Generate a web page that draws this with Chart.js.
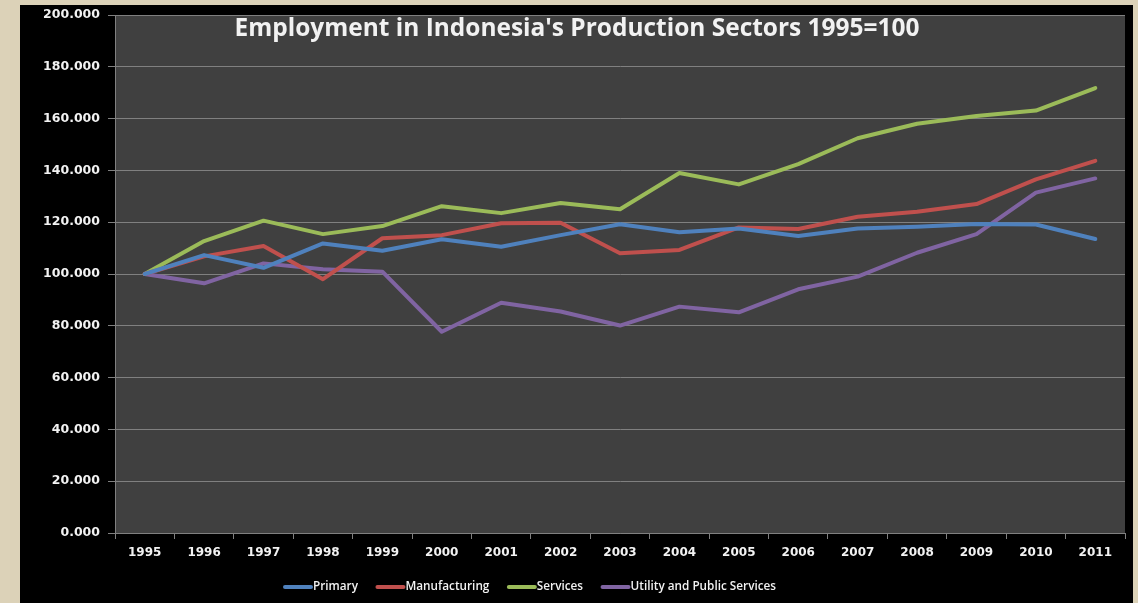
<!DOCTYPE html>
<html>
<head>
<meta charset="utf-8">
<script src="https://cdn.jsdelivr.net/npm/chart.js@4.4.1/dist/chart.umd.min.js"></script>
<style>
  html, body { margin: 0; padding: 0; }
  body { width: 1138px; height: 603px; background: #dcd2b8; position: relative; overflow: hidden; }
  #wrap { position: absolute; left: 20px; top: 5px; width: 1113px; height: 598px; background: #000; }
  canvas { display: block; }
</style>
</head>
<body>
<div id="wrap"><canvas id="c" width="1113" height="598"></canvas></div>
<script>
const years = ['1995','1996','1997','1998','1999','2000','2001','2002','2003','2004','2005','2006','2007','2008','2009','2010','2011'];
const primary = [100, 107.3, 102.4, 111.8, 109.0, 113.4, 110.5, 115.0, 119.2, 116.1, 117.6, 114.7, 117.6, 118.2, 119.3, 119.1, 113.5];
const manufacturing = [100, 106.8, 110.8, 98.0, 113.8, 115.0, 119.6, 119.8, 108.0, 109.3, 118.0, 117.4, 122.1, 124.0, 127.0, 136.5, 143.7];
const services = [100, 112.7, 120.6, 115.4, 118.5, 126.2, 123.5, 127.4, 125.0, 139.0, 134.6, 142.4, 152.4, 158.0, 161.0, 163.1, 171.8];
const utility = [100, 96.4, 104.1, 101.8, 100.9, 77.7, 88.9, 85.5, 80.1, 87.4, 85.2, 94.1, 99.0, 108.2, 115.4, 131.4, 136.9];
const yTicks = { min: 0, max: 200, step: 20 };
const titleText = "Employment in Indonesia's Production Sectors 1995=100";

function fitFont(ctx, text, weight, family, targetWidth) {
  ctx.font = weight + ' 20px ' + family;
  const w = ctx.measureText(text).width;
  return 20 * targetWidth / w;
}

const decor = {
  id: 'decor',
  beforeDraw(chart) {
    const { ctx, chartArea: a } = chart;
    ctx.save();
    ctx.fillStyle = '#404040';
    ctx.fillRect(a.left, a.top, a.right - a.left, a.bottom - a.top);
    ctx.restore();
  },
  afterDatasetsDraw(chart) {
    const { ctx } = chart;
    ctx.save();
    const fam = '"Open Sans"';
    const size = fitFont(ctx, titleText, 'bold', fam, 685);
    ctx.fillStyle = '#f2f2f2';
    ctx.font = 'bold ' + size.toFixed(2) + 'px ' + fam;
    ctx.textAlign = 'center';
    ctx.textBaseline = 'middle';
    ctx.fillText(titleText, 557, 24);
    ctx.restore();
  },
  afterDraw(chart) {
    const { ctx } = chart;
    ctx.save();
    const fam = '"Open Sans"';
    const size = fitFont(ctx, 'Manufacturing', '600', fam, 84);
    ctx.font = '600 ' + size.toFixed(2) + 'px ' + fam;
    ctx.textBaseline = 'middle';
    ctx.textAlign = 'left';
    const y = 582;
    let x = 263;
    chart.data.datasets.forEach(d => {
      ctx.strokeStyle = d.borderColor;
      ctx.lineWidth = 4;
      ctx.lineCap = 'round';
      ctx.beginPath();
      ctx.moveTo(x + 2, y);
      ctx.lineTo(x + 28, y);
      ctx.stroke();
      ctx.fillStyle = '#f2f2f2';
      ctx.fillText(d.label, x + 30, y);
      x += 30 + ctx.measureText(d.label).width + 17.5;
    });
    ctx.restore();
  }
};

function ds(label, data, color) {
  return { label, data, borderColor: color, backgroundColor: color, borderWidth: 4,
    pointRadius: 0, tension: 0, borderCapStyle: 'round', borderJoinStyle: 'round' };
}

new Chart(document.getElementById('c'), {
  type: 'line',
  data: {
    labels: years,
    datasets: [
      ds('Primary', primary, '#4f81bd'),
      ds('Manufacturing', manufacturing, '#c0504d'),
      ds('Services', services, '#9bbb59'),
      ds('Utility and Public Services', utility, '#8064a2')
    ]
  },
  options: {
    responsive: false,
    animation: false,
    layout: { padding: { top: 10, right: 8, left: 0, bottom: 31 } },
    plugins: {
      legend: { display: false },
      tooltip: { enabled: false }
    },
    scales: {
      x: {
        offset: true,
        grid: { display: true, drawOnChartArea: false, drawTicks: true, tickLength: 6, color: '#808080', offset: true },
        border: { color: '#808080' },
        ticks: { color: '#f2f2f2', font: { family: '"DejaVu Sans"', size: 12, weight: 'bold' }, padding: 7, maxRotation: 0, autoSkip: false },
        afterFit(s) { s.height = 39; s.paddingLeft = 0; s.paddingRight = 0; }
      },
      y: {
        min: yTicks.min, max: yTicks.max,
        grid: { color: '#808080', tickLength: 7, drawTicks: true },
        border: { color: '#808080' },
        ticks: { stepSize: yTicks.step, color: '#f2f2f2', font: { family: '"DejaVu Sans"', size: 12.5, weight: 'bold' }, padding: 8,
          callback: v => Number(v).toFixed(3) },
        afterFit(s) { s.width = 95; s.paddingTop = 0; s.paddingBottom = 0; }
      }
    }
  },
  plugins: [decor]
});
</script>
</body>
</html>
